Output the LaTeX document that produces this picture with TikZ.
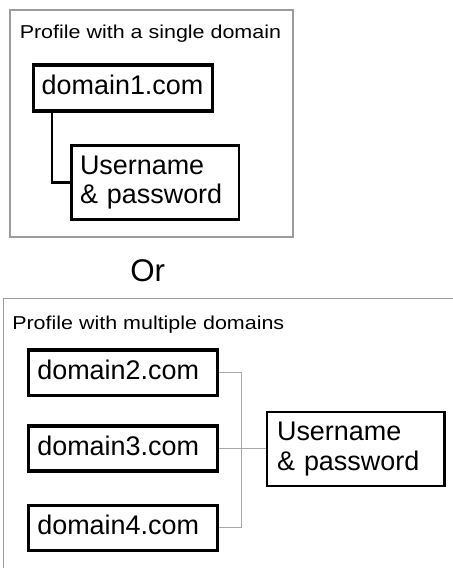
\documentclass[tikz,border=0pt]{standalone}
\usepackage{fontspec}
\setmainfont{Liberation Sans}
\newfontfamily\titlefont[FakeStretch=1.15]{Liberation Sans}
\definecolor{framegray}{HTML}{9C9C9C}
\definecolor{linkgray}{HTML}{A8A8A8}
\begin{document}
\begin{tikzpicture}[x=0.75pt,y=-0.75pt,
  frame/.style={draw=framegray,line width=1pt},
  heading/.style={anchor=base west,inner sep=0pt,font=\titlefont\fontsize{14pt}{16pt}\selectfont},
  domainbox/.style={draw,line width=2.5pt,align=left,inner ysep=0pt,
    text height=15pt,text depth=4.9pt,
    font=\fontsize{20.2pt}{22.1pt}\selectfont},
  credbox/.style={draw,line width=1.8pt,align=left,inner ysep=0pt,
    font=\fontsize{20.2pt}{22.1pt}\selectfont},
  link/.style={line width=2pt},
  thinlink/.style={draw=linkgray,line width=1pt}]
\useasboundingbox (0,0) rectangle (453,568);

% --- single domain profile ---
\draw[frame] (10,10) rectangle (293,237);
\node[heading] (t1) at (19.5,38.7) {Profile with a single domain};
\node[domainbox,minimum width=134.55pt,minimum height=34.5pt,
      text width=121.95pt,inner xsep=6.3pt] (d1) at (123,88) {domain1.com};
\node[credbox,minimum width=125.55pt,minimum height=55.65pt,
      text width=112.5pt,inner xsep=6.5pt] (u1) at (155,182.4) {Username\\\& password};
\coordinate (c1) at (52,111);
\draw[link] (c1 |- d1.south) |- (u1.west);

% --- separator ---
\node[anchor=base west,inner sep=0pt,font=\fontsize{23.5pt}{26pt}\selectfont] (or) at (130,281) {Or};

% --- multiple domain profile ---
\draw[frame] (3.5,572) |- (457,298.5);
\node[heading] (t2) at (12,329) {Profile with multiple domains};
\node[domainbox,minimum width=141.9pt,minimum height=34.1pt,
      text width=128.4pt,inner xsep=6.75pt] (d2) at (122.9,372.75) {domain2.com};
\node[domainbox,minimum width=141.9pt,minimum height=33.75pt,
      text width=128.4pt,inner xsep=6.75pt] (d3) at (122.9,448.5) {domain3.com};
\node[domainbox,minimum width=141.9pt,minimum height=33.75pt,
      text width=128.4pt,inner xsep=6.75pt] (d4) at (122.9,527.75) {domain4.com};
\node[credbox,minimum width=133.1pt,minimum height=55.65pt,
      text width=118pt,inner xsep=7.5pt] (u2) at (355.75,449.1) {Username\\\& password};
\coordinate (bus) at (241.7,450);
\draw[thinlink] (d2.east) -| (bus |- d4.east) -- (d4.east);
\draw[thinlink] (d3.east) -- (d3.east -| u2.west);
\end{tikzpicture}
\end{document}
